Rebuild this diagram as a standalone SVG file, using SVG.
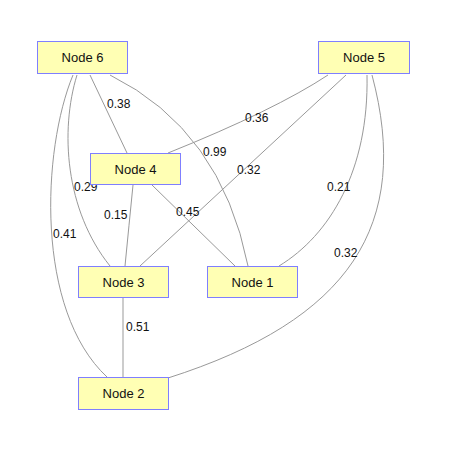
<svg xmlns="http://www.w3.org/2000/svg" width="453" height="451" viewBox="0 0 453 451">
<style>
.e{fill:none;stroke:#999;stroke-width:1}
.el{font-family:"Liberation Sans",Arial,sans-serif;font-size:12px;fill:#111}
.n rect{fill:#ffffb4;stroke:#7f7fff;stroke-width:1}
.n text{font-family:"Liberation Sans",Arial,sans-serif;font-size:13px;fill:#111;text-anchor:middle}
</style>
<rect width="453" height="451" fill="#fff"/>
<g id="connectors">
<path class="e" d="M90,75 L127,153"/>
<path class="e" d="M110,75 Q221,130 248,266"/>
<path class="e" d="M328,75 Q275,110 168,153"/>
<path class="e" d="M346,75 L140,266"/>
<path class="e" d="M367,75 C369,170 330,235 279,266"/>
<path class="e" d="M372,75 C412,225 350,320 168,378"/>
<path class="e" d="M77,75 C60,130 65,210 110,266"/>
<path class="e" d="M73,75 C42,150 35,310 107,377"/>
<path class="e" d="M133,185 Q129,225 125,266"/>
<path class="e" d="M152,185 L235,266"/>
<path class="e" d="M123,298 L123,377"/>
<text class="el" x="107" y="108">0.38</text>
<text class="el" x="203" y="156">0.99</text>
<text class="el" x="245" y="122">0.36</text>
<text class="el" x="237" y="174">0.32</text>
<text class="el" x="327" y="191">0.21</text>
<text class="el" x="334" y="257">0.32</text>
<text class="el" x="74" y="191">0.29</text>
<text class="el" x="53" y="238">0.41</text>
<text class="el" x="104" y="219">0.15</text>
<text class="el" x="176" y="216">0.45</text>
<text class="el" x="126" y="331">0.51</text>
</g>
<g id="node6" class="n"><rect x="37.5" y="41.5" width="90" height="32"/><text x="82.5" y="62">Node 6</text></g>
<g id="node5" class="n"><rect x="318.5" y="41.5" width="91" height="32"/><text x="364" y="62">Node 5</text></g>
<g id="node4" class="n"><rect x="90.5" y="153.5" width="90" height="31"/><text x="135.5" y="174">Node 4</text></g>
<g id="node3" class="n"><rect x="78.5" y="266.5" width="90" height="31"/><text x="123.5" y="287">Node 3</text></g>
<g id="node1" class="n"><rect x="207.5" y="266.5" width="90" height="31"/><text x="252.5" y="287">Node 1</text></g>
<g id="node2" class="n"><rect x="78.5" y="377.5" width="90" height="32"/><text x="123.5" y="398">Node 2</text></g>
</svg>
